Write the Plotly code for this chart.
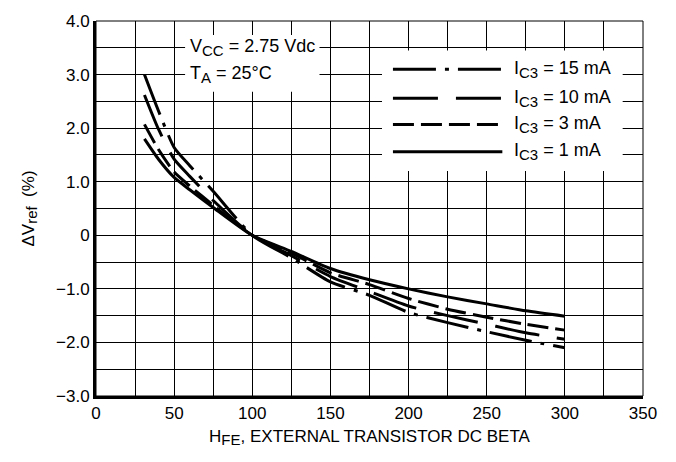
import plotly.graph_objects as go

# Data
hfe = [31, 40, 50, 60, 75, 100, 125, 150, 175, 200, 225, 250, 275, 300]
ic_15ma = [3.00, 2.32, 1.64, 1.30, 0.82, 0.0, -0.42, -0.87, -1.12, -1.44, -1.63, -1.80, -1.96, -2.10]
ic_10ma = [2.62, 1.98, 1.42, 1.10, 0.65, 0.0, -0.38, -0.77, -1.05, -1.32, -1.50, -1.66, -1.82, -1.94]
ic_3ma = [2.07, 1.60, 1.18, 0.92, 0.56, 0.0, -0.33, -0.70, -0.92, -1.18, -1.38, -1.53, -1.66, -1.77]
ic_1ma = [1.80, 1.42, 1.08, 0.85, 0.52, 0.0, -0.30, -0.62, -0.83, -1.00, -1.15, -1.28, -1.41, -1.51]

SUB = '<sub><span style="font-size:15px">%s</span></sub>'
series_names = ["I" + SUB % "C3" + " = 15 mA", "I" + SUB % "C3" + " = 10 mA",
                "I" + SUB % "C3" + " = 3 mA", "I" + SUB % "C3" + " = 1 mA"]
series_values = [ic_15ma, ic_10ma, ic_3ma, ic_1ma]
dashes = ["43px,9px,4px,9px", "45px,18px", "21px,7px", "solid"]

x_tickvals = list(range(0, 351, 50))
x_ticktext = [str(v) for v in x_tickvals]
y_tickvals = list(range(-3, 5))
y_ticktext = ["0" if v == 0 else ("\u2212%.1f" % abs(v) if v < 0 else "%.1f" % v) for v in y_tickvals]

FONT = "Liberation Sans, Arial, Helvetica, sans-serif"

fig = go.Figure()
for name, vals, d in zip(series_names, series_values, dashes):
    fig.add_trace(go.Scatter(
        x=hfe, y=vals, mode="lines", name=name,
        line=dict(color="black", width=3, dash=d, shape="spline", smoothing=0.6),
        showlegend=False,
    ))

shapes = []
# white boxes over the grid (between grid and traces)
shapes.append(dict(type="rect", xref="x", yref="y", x0=57, x1=143, y0=2.68, y1=3.74,
                   fillcolor="white", line=dict(width=0), layer="between"))
shapes.append(dict(type="rect", xref="x", yref="y", x0=183, x1=337, y0=1.2, y1=3.45,
                   fillcolor="white", line=dict(width=0), layer="between"))
# thin frame on top/right
shapes.append(dict(type="rect", xref="paper", yref="paper", x0=0, x1=1, y0=0, y1=1,
                   line=dict(color="black", width=1), layer="below"))

legend_rows = [3.10, 2.56, 2.07, 1.56]
annotations = []
for name, d, yr in zip(series_names, dashes, legend_rows):
    shapes.append(dict(type="line", xref="x", yref="y", x0=190, x1=260, y0=yr, y1=yr,
                       line=dict(color="black", width=3, dash=d), layer="above"))
    annotations.append(dict(x=266, y=yr, xref="x", yref="y", text=name, showarrow=False,
                            xanchor="left", yanchor="middle",
                            font=dict(family=FONT, size=18, color="black")))

annotations.append(dict(x=59, y=3.51, xref="x", yref="y", text="V" + SUB % "CC" + " = 2.75 Vdc",
                        showarrow=False, xanchor="left", yanchor="middle",
                        font=dict(family=FONT, size=18, color="black")))
annotations.append(dict(x=59, y=3.0, xref="x", yref="y", text="T" + SUB % "A" + " = 25°C",
                        showarrow=False, xanchor="left", yanchor="middle",
                        font=dict(family=FONT, size=18, color="black")))

fig.update_layout(
    width=676, height=462,
    margin=dict(l=96, r=33, t=13, b=66),
    paper_bgcolor="white", plot_bgcolor="white",
    font=dict(family=FONT, size=17, color="black"),
    shapes=shapes, annotations=annotations,
    showlegend=False,
)
fig.update_xaxes(
    range=[0, 350], tickvals=x_tickvals, ticktext=x_ticktext,
    showgrid=True, gridcolor="black", gridwidth=1,
    minor=dict(dtick=25, tick0=0, showgrid=True, gridcolor="black", gridwidth=1, ticks=""),
    showline=True, linecolor="black", linewidth=3,
    ticks="", zeroline=False,
    title=dict(text="H" + SUB % "FE" + ", EXTERNAL TRANSISTOR DC BETA", font=dict(size=17), standoff=8),
    tickfont=dict(size=17),
)
fig.update_yaxes(
    range=[-3, 4], tickvals=y_tickvals, ticktext=y_ticktext,
    showgrid=True, gridcolor="black", gridwidth=1,
    minor=dict(dtick=0.5, tick0=0, showgrid=True, gridcolor="black", gridwidth=1, ticks=""),
    showline=True, linecolor="black", linewidth=3,
    ticks="", zeroline=False,
    title=dict(text="ΔV" + SUB % "ref" + "  (%)", font=dict(size=17), standoff=18),
    tickfont=dict(size=17),
)

fig.write_html("out.html")
